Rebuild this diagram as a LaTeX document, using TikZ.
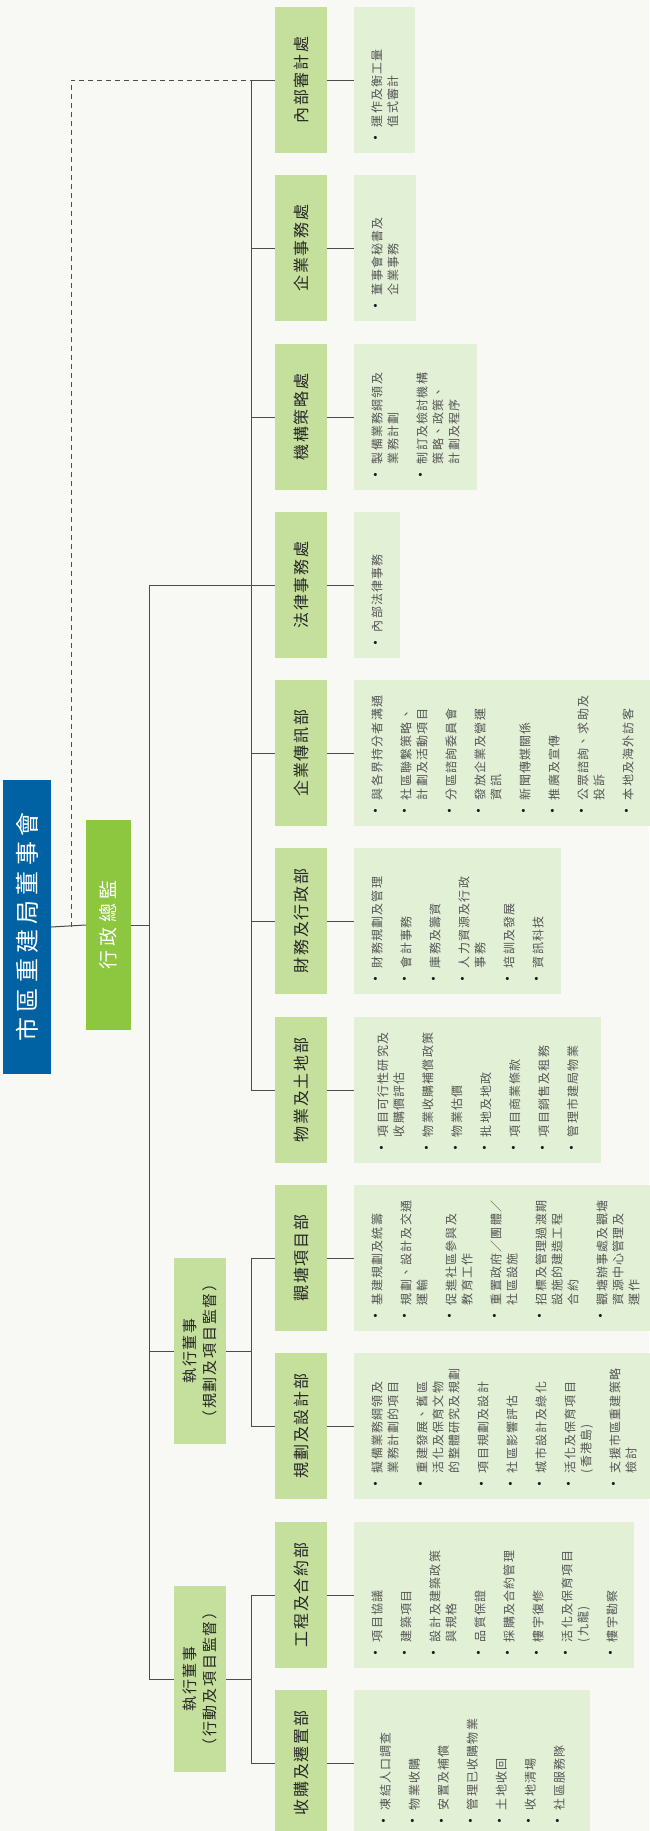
\documentclass[tikz,border=0pt]{standalone}
\usepackage{fontspec}
\setmainfont{Noto Sans CJK TC}
\newfontfamily\descfont[LetterSpace=10]{Noto Sans CJK TC}
\newfontfamily\deptfont[LetterSpace=12]{Noto Sans CJK TC}
\newfontfamily\headfont[LetterSpace=22]{Noto Sans CJK TC}
\definecolor{bg}{RGB}{248,249,244}
\definecolor{boardblue}{RGB}{0,98,163}
\definecolor{ceogreen}{RGB}{141,198,63}
\definecolor{deptgreen}{RGB}{197,223,157}
\definecolor{descgreen}{RGB}{226,240,213}
\definecolor{linegray}{RGB}{77,77,77}
\definecolor{descgray}{RGB}{85,85,85}
% one bullet item of a duty list, \break inside for its own line breaks
\newcommand\itm[1]{\hangindent=18pt\hangafter=1\noindent\makebox[18pt][l]{\textcolor{black!90}{\fontsize{15}{16}\selectfont •}}#1\par}

\begin{document}
\begin{tikzpicture}[x=1pt, y=1pt,
  link/.style={draw=linegray, line width=1pt},
  board/.style={rotate=90, fill=boardblue, text=white, minimum width=294pt, minimum height=48pt, inner sep=0pt, font=\headfont\fontsize{24}{28}\selectfont},
  ceo/.style={rotate=90, fill=ceogreen, text=white, minimum width=210pt, minimum height=45pt, inner sep=0pt, font=\headfont\fontsize{19}{24}\selectfont},
  exec/.style={rotate=90, fill=deptgreen, text=black!85, minimum width=186pt, minimum height=52pt, inner sep=0pt, align=center, font=\deptfont\fontsize{15}{20}\selectfont},
  dept/.style={rotate=90, fill=deptgreen, text=black!85, minimum width=146pt, minimum height=52pt, inner sep=0pt, font=\deptfont\fontsize{16}{20}\selectfont},
  desc/.style={rotate=90, fill=descgreen, anchor=north west, minimum width=146pt, text width=130pt, inner xsep=8pt, inner ysep=17pt, align=left, text=descgray, font=\descfont\fontsize{12}{16}\selectfont, execute at begin node={\setlength{\baselineskip}{16pt}\setlength{\parskip}{13pt}}}]
\fill[bg] (0,0) rectangle (649,-1831);
\useasboundingbox (0,0) rectangle (649,-1831);

\coordinate (dashx) at (71,0);
\coordinate (trunk) at (149,0);
\coordinate (spine) at (251,0);

\node[board] (board) at (27,-927) {市區重建局董事會};
\node[ceo] (ceo) at (108.5,-925) {行政總監};
\node[exec] (exec1) at (200,-1351) {執行董事\\（規劃及項目監督）};
\node[exec] (exec2) at (200,-1679) {執行董事\\（行動及項目監督）};

\node[dept] (audit) at (301,-80) {內部審計處};
\node[dept] (corpaff) at (301,-248) {企業事務處};
\node[dept] (strategy) at (301,-417) {機構策略處};
\node[dept] (legal) at (301,-585) {法律事務處};
\node[dept] (comms) at (301,-753) {企業傳訊部};
\node[dept] (finance) at (301,-921) {財務及行政部};
\node[dept] (property) at (301,-1090) {物業及土地部};
\node[dept] (kwuntong) at (301,-1258) {觀塘項目部};
\node[dept] (planning) at (301,-1426) {規劃及設計部};
\node[dept] (works) at (301,-1595) {工程及合約部};
\node[dept] (acquisition) at (301,-1763) {收購及遷置部};

\node[desc] (audit-desc) at ([xshift=27pt]audit.south west) {\itm{運作及衡工量\break 值式審計}};
\node[desc] (corpaff-desc) at ([xshift=27pt]corpaff.south west) {\itm{董事會秘書及\break 企業事務}};
\node[desc] (strategy-desc) at ([xshift=27pt]strategy.south west) {\itm{製備業務綱領及\break 業務計劃}\itm{制訂及檢討機構\break 策略、政策、\break 計劃及程序}};
\node[desc] (legal-desc) at ([xshift=27pt]legal.south west) {\itm{內部法律事務}};
\node[desc] (comms-desc) at ([xshift=27pt]comms.south west) {\itm{與各界持分者溝通}\itm{社區聯繫策略、\break 計劃及活動項目}\itm{分區諮詢委員會}\itm{發放企業及營運\break 資訊}\itm{新聞傳媒關係}\itm{推廣及宣傳}\itm{公眾諮詢、求助及\break 投訴}\itm{本地及海外訪客}};
\node[desc] (finance-desc) at ([xshift=27pt]finance.south west) {\itm{財務規劃及管理}\itm{會計事務}\itm{庫務及籌資}\itm{人力資源及行政\break 事務}\itm{培訓及發展}\itm{資訊科技}};
\node[desc, minimum height=247pt] (property-desc) at ([xshift=27pt]property.south west) {\itm{項目可行性研究及\break 收購價評估}\itm{物業收購補償政策}\itm{物業估價}\itm{批地及地政}\itm{項目商業條款}\itm{項目銷售及租務}\itm{管理市建局物業}};
\node[desc] (kwuntong-desc) at ([xshift=27pt]kwuntong.south west) {\itm{基建規劃及統籌}\itm{規劃、設計及交通\break 運輸}\itm{促進社區參與及\break 教育工作}\itm{重置政府／團體／\break 社區設施}\itm{招標及管理過渡期\break 設施的建造工程\break 合約}\itm{觀塘辦事處及觀塘\break 資源中心管理及\break 運作}};
\node[desc] (planning-desc) at ([xshift=27pt]planning.south west) {\itm{擬備業務綱領及\break 業務計劃的項目}\itm{重建發展、舊區\break 活化及保育文物\break 的整體研究及規劃}\itm{項目規劃及設計}\itm{社區影響評估}\itm{城市設計及綠化}\itm{活化及保育項目\break (香港島)}\itm{支援市區重建策略\break 檢討}};
\node[desc] (works-desc) at ([xshift=27pt]works.south west) {\itm{項目協議}\itm{建築項目}\itm{設計及建築政策\break 與規格}\itm{品質保證}\itm{採購及合約管理}\itm{樓宇復修}\itm{活化及保育項目\break (九龍)}\itm{樓宇勘察}};
\node[desc, minimum height=236pt] (acquisition-desc) at ([xshift=27pt]acquisition.south west) {\itm{凍結人口調查}\itm{物業收購}\itm{安置及補償}\itm{管理已收購物業}\itm{土地收回}\itm{收地清場}\itm{社區服務隊}};

% board, chief executive and the two executive directors
\draw[link] (board.south) -- (ceo.north);
\draw[link, line width=0.8pt, dash pattern=on 5pt off 4pt] (board.south -| dashx) |- (audit.north -| spine);
\draw[link] (ceo.south) -- (ceo.south -| trunk);
\draw[link] (legal.north -| spine) -- (legal.north -| trunk) -- (exec2.north -| trunk);
\draw[link] (exec1.north) -- (exec1.north -| trunk);
\draw[link] (exec2.north) -- (exec2.north -| trunk);

% department spines
\draw[link] (audit.north -| spine) -- (property.north -| spine);
\draw[link] (exec1.south) -- (exec1.south -| spine);
\draw[link] (kwuntong.north -| spine) -- (planning.north -| spine);
\draw[link] (exec2.south) -- (exec2.south -| spine);
\draw[link] (works.north -| spine) -- (acquisition.north -| spine);
\foreach \n in {audit,corpaff,strategy,legal,comms,finance,property,kwuntong,planning,works,acquisition}{
  \draw[link] (\n.north) -- (\n.north -| spine);
  \draw[link] (\n.south) -- (\n-desc.north);
}
\end{tikzpicture}
\end{document}
